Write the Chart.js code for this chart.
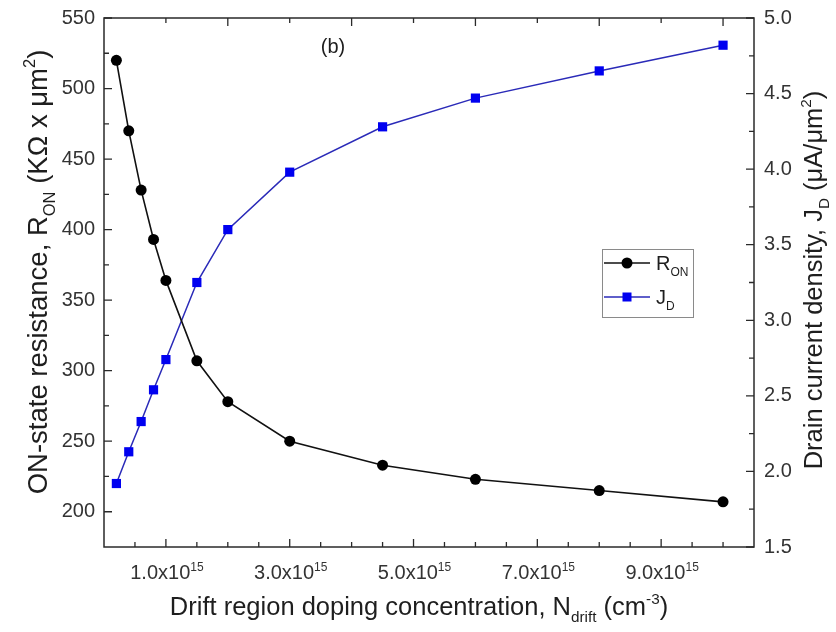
<!DOCTYPE html>
<html>
<head>
<meta charset="utf-8">
<script src="https://cdn.jsdelivr.net/npm/chart.js@4.4.1/dist/chart.umd.min.js"></script>
<style>
  html, body { margin: 0; padding: 0; background: #ffffff; }
  #wrap { width: 836px; height: 632px; }
</style>
</head>
<body>
<div id="wrap"><canvas id="c" width="836" height="632"></canvas></div>
<script>
// ---- data ----
const dopingValues = [0.2e15, 0.4e15, 0.6e15, 0.8e15, 1.0e15, 1.5e15, 2.0e15, 3.0e15, 4.5e15, 6.0e15, 8.0e15, 10.0e15];
const ronValues    = [520, 470, 428, 393, 364, 307, 278, 250, 233, 223, 215, 207];
const jdValues     = [1.92, 2.13, 2.33, 2.54, 2.74, 3.25, 3.60, 3.98, 4.28, 4.47, 4.65, 4.82];

const leftTickLabels  = [200, 250, 300, 350, 400, 450, 500, 550];
const leftMinorTicks  = [225, 275, 325, 375, 425, 475, 525];
const rightTickLabels = [1.5, 2.0, 2.5, 3.0, 3.5, 4.0, 4.5, 5.0];
const rightMinorTicks = [1.75, 2.25, 2.75, 3.25, 3.75, 4.25, 4.75];
const bottomTickLabels = [1e15, 3e15, 5e15, 7e15, 9e15];
const bottomMinorTicks = [0.5e15, 1.5e15, 2e15, 2.5e15, 3.5e15, 4e15, 4.5e15, 5.5e15, 6e15, 6.5e15, 7.5e15, 8e15, 8.5e15, 9.5e15, 10e15];
const topMajorTicks = [2e15, 4e15, 6e15, 8e15, 10e15];
const topMinorTicks = [1e15, 3e15, 5e15, 7e15, 9e15];

const FONT = '"Liberation Sans", Arial, sans-serif';
const TICK_COLOR = '#333333';
const TITLE_COLOR = '#1e1e1e';

function richWidth(ctx, parts, size) {
  let w = 0;
  for (const p of parts) {
    const s = p.sub || p.sup ? size * 0.6 : size;
    ctx.font = s + 'px ' + FONT;
    w += ctx.measureText(p.t).width;
  }
  return w;
}
function drawRich(ctx, parts, x, y, size, align) {
  const w = richWidth(ctx, parts, size);
  let cx = align === 'center' ? x - w / 2 : (align === 'right' ? x - w : x);
  ctx.textAlign = 'left';
  ctx.textBaseline = 'alphabetic';
  for (const p of parts) {
    const s = p.sub || p.sup ? size * 0.6 : size;
    ctx.font = s + 'px ' + FONT;
    let dy = 0;
    if (p.sub) dy = size * 0.28;
    if (p.sup) dy = -size * 0.42;
    ctx.fillText(p.t, cx, y + dy);
    cx += ctx.measureText(p.t).width;
  }
}

const axesPlugin = {
  id: 'axesPlugin',
  afterDatasetsDraw(chart) {
    const ctx = chart.ctx;
    const a = chart.chartArea;
    const xs = chart.scales.x, yl = chart.scales.yL, yr = chart.scales.yR;
    ctx.save();
    // frame
    ctx.strokeStyle = '#2a2a2a';
    ctx.lineWidth = 1.5;
    ctx.strokeRect(a.left, a.top, a.right - a.left, a.bottom - a.top);
    // ticks
    ctx.lineWidth = 1.3;
    ctx.beginPath();
    const MAJ = 8, MIN = 5;
    leftTickLabels.forEach(v => { const y = yl.getPixelForValue(v); ctx.moveTo(a.left, y); ctx.lineTo(a.left + MAJ, y); });
    leftMinorTicks.forEach(v => { const y = yl.getPixelForValue(v); ctx.moveTo(a.left, y); ctx.lineTo(a.left + MIN, y); });
    rightTickLabels.forEach(v => { const y = yr.getPixelForValue(v); ctx.moveTo(a.right, y); ctx.lineTo(a.right - MAJ, y); });
    rightMinorTicks.forEach(v => { const y = yr.getPixelForValue(v); ctx.moveTo(a.right, y); ctx.lineTo(a.right - MIN, y); });
    bottomTickLabels.forEach(v => { const x = xs.getPixelForValue(v); ctx.moveTo(x, a.bottom); ctx.lineTo(x, a.bottom - MAJ); });
    bottomMinorTicks.forEach(v => { const x = xs.getPixelForValue(v); ctx.moveTo(x, a.bottom); ctx.lineTo(x, a.bottom - MIN); });
    topMajorTicks.forEach(v => { const x = xs.getPixelForValue(v); ctx.moveTo(x, a.top); ctx.lineTo(x, a.top + MAJ); });
    topMinorTicks.forEach(v => { const x = xs.getPixelForValue(v); ctx.moveTo(x, a.top); ctx.lineTo(x, a.top + MIN); });
    ctx.stroke();

    // tick labels
    ctx.fillStyle = TICK_COLOR;
    ctx.font = '20px ' + FONT;
    ctx.textBaseline = 'middle';
    ctx.textAlign = 'right';
    leftTickLabels.forEach(v => ctx.fillText(String(v), a.left - 9, yl.getPixelForValue(v)));
    ctx.textAlign = 'left';
    rightTickLabels.forEach(v => ctx.fillText(v.toFixed(1), a.right + 10, yr.getPixelForValue(v)));
    bottomTickLabels.forEach(v => {
      const m = (v / 1e15).toFixed(1);
      drawRich(ctx, [{t: m + 'x10'}, {t: '15', sup: true}], xs.getPixelForValue(v) + 1, a.bottom + 32, 20, 'center');
    });

    // axis titles
    ctx.fillStyle = TITLE_COLOR;
    drawRich(ctx, [{t: 'Drift region doping concentration, N'}, {t: 'drift', sub: true}, {t: ' (cm'}, {t: '-3', sup: true}, {t: ')'}],
      419, a.bottom + 68, 25.5, 'center');
    ctx.save();
    ctx.translate(47, 272);
    ctx.rotate(-Math.PI / 2);
    drawRich(ctx, [{t: 'ON-state resistance, R'}, {t: 'ON', sub: true}, {t: ' (K\u03A9 x \u03BCm'}, {t: '2', sup: true}, {t: ')'}], 0, 0, 27.5, 'center');
    ctx.restore();
    ctx.save();
    ctx.translate(822, 280);
    ctx.rotate(-Math.PI / 2);
    drawRich(ctx, [{t: 'Drain current density, J'}, {t: 'D', sub: true}, {t: ' (\u03BCA/\u03BCm'}, {t: '2', sup: true}, {t: ')'}], 0, 0, 25.5, 'center');
    ctx.restore();

    // panel label
    ctx.font = '20px ' + FONT;
    ctx.textAlign = 'center';
    ctx.textBaseline = 'middle';
    ctx.fillText('(b)', 333, 47);

    // legend
    const lx = 602, ly = 249, lw = 91, lh = 68;
    ctx.strokeStyle = '#8a8a8a';
    ctx.lineWidth = 1;
    ctx.strokeRect(lx + 0.5, ly + 0.5, lw, lh);
    const rows = [263, 297];
    chart.data.datasets.forEach((ds, i) => {
      const y = rows[i];
      ctx.strokeStyle = ds.borderColor;
      ctx.lineWidth = ds.borderWidth;
      ctx.beginPath(); ctx.moveTo(604, y); ctx.lineTo(650, y); ctx.stroke();
      ctx.fillStyle = ds.pointBackgroundColor;
      if (ds.pointStyle === 'rect') {
        ctx.fillRect(627 - 4.5, y - 4.5, 9, 9);
      } else {
        ctx.beginPath(); ctx.arc(627, y, 5.5, 0, Math.PI * 2); ctx.fill();
      }
      ctx.fillStyle = TITLE_COLOR;
      drawRich(ctx, ds.legendParts, 656, y + 7, 20, 'left');
    });
    ctx.restore();
  }
};

const ronPoints = dopingValues.map((x, i) => ({x: x, y: ronValues[i]}));
const jdPoints  = dopingValues.map((x, i) => ({x: x, y: jdValues[i]}));

new Chart(document.getElementById('c'), {
  type: 'line',
  data: {
    datasets: [
      {
        label: 'RON', legendParts: [{t: 'R'}, {t: 'ON', sub: true}],
        data: ronPoints, yAxisID: 'yL',
        borderColor: '#111111', borderWidth: 1.6,
        pointStyle: 'circle', pointRadius: 5.5, pointBackgroundColor: '#000000', pointBorderColor: '#000000', pointBorderWidth: 0,
        tension: 0, fill: false, clip: false
      },
      {
        label: 'JD', legendParts: [{t: 'J'}, {t: 'D', sub: true}],
        data: jdPoints, yAxisID: 'yR',
        borderColor: '#2a2ab8', borderWidth: 1.5,
        pointStyle: 'rect', pointRadius: 6.5, pointBackgroundColor: '#0000f0', pointBorderColor: '#0000f0', pointBorderWidth: 0,
        tension: 0, fill: false, clip: false
      }
    ]
  },
  options: {
    responsive: false,
    animation: false,
    devicePixelRatio: 1,
    layout: { padding: { left: 104, right: 82, top: 18, bottom: 85 } },
    plugins: { legend: { display: false }, tooltip: { enabled: false } },
    scales: {
      x:  { type: 'linear', min: 0, max: 10.5e15, display: false },
      yL: { type: 'linear', position: 'left', min: 175, max: 550, display: false },
      yR: { type: 'linear', position: 'right', min: 1.5, max: 5.0, display: false }
    }
  },
  plugins: [axesPlugin]
});
</script>
</body>
</html>
